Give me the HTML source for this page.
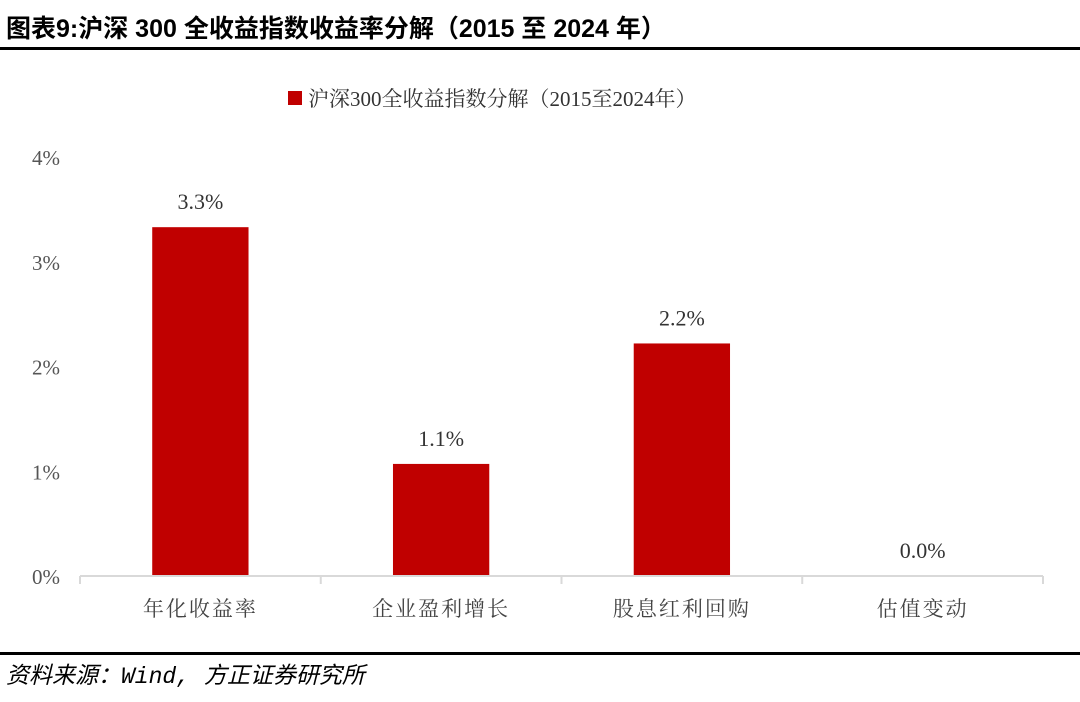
<!DOCTYPE html>
<html><head><meta charset="utf-8"><style>
body{margin:0;width:1080px;height:697px;background:#fff;overflow:hidden;font-family:"Liberation Serif","Noto Serif CJK SC",serif}
</style></head><body>
<svg width="1080" height="697" xmlns="http://www.w3.org/2000/svg">
<text x="6" y="37" font-size="25" font-weight="bold" fill="#000" font-family="'Liberation Sans','Noto Sans CJK SC',sans-serif">图表9:沪深 300 全收益指数收益率分解（2015 至 2024 年）</text>
<rect x="0" y="47" width="1080" height="3" fill="#000"/>
<rect x="288" y="91" width="14" height="14" fill="#c00000"/>
<text x="308" y="106" font-size="21" fill="#333">沪深300全收益指数分解（2015至2024年）</text>
<g id="yaxis"></g><g id="bars"></g><g id="xaxis"></g>
<rect x="0" y="652" width="1080" height="3" fill="#000"/>
<text x="6" y="683" font-size="23" font-style="italic" fill="#000" font-family="'Liberation Mono','Noto Sans CJK SC',monospace">资料来源：Wind, 方正证券研究所</text>
</svg>
<script>
const categories=["年化收益率","企业盈利增长","股息红利回购","估值变动"];
const values=[3.33,1.07,2.22,0.0];
const valueLabels=["3.3%","1.1%","2.2%","0.0%"];
const yTicks=[0,1,2,3,4];
const yTickLabels=["0%","1%","2%","3%","4%"];
const NS="http://www.w3.org/2000/svg";
const x0=80,x1=1043,y0=576,yTop=157,yMax=4;
const band=(x1-x0)/categories.length;
const y=v=>y0-(v/yMax)*(y0-yTop);
function mk(t,a,p,txt){const e=document.createElementNS(NS,t);for(const k in a)e.setAttribute(k,a[k]);if(txt!==undefined)e.textContent=txt;p.appendChild(e);return e;}
const ya=document.getElementById('yaxis'),ba=document.getElementById('bars'),xa=document.getElementById('xaxis');
yTicks.forEach((t,i)=>{const e=mk('text',{x:60,y:y(t)+8,'text-anchor':'end','font-size':21,fill:'#555'},ya,yTickLabels[i]);

});
categories.forEach((c,i)=>{const cx=x0+band*(i+0.5),w=band*0.4;
const r=mk('rect',{x:cx-w/2,y:y(values[i]),width:w,height:y0-y(values[i]),fill:'#c00000'},ba);


const l=mk('text',{x:cx,y:y(values[i])-18,'text-anchor':'middle','font-size':22,fill:'#333'},ba,valueLabels[i]);


const cl=mk('text',{x:cx,y:616,'text-anchor':'middle','font-size':21,fill:'#444','letter-spacing':'2'},xa,c);

});
const ax=mk('line',{x1:x0,y1:y0,x2:x1,y2:y0,stroke:'#d9d9d9','stroke-width':2},xa);


for(let i=0;i<=categories.length;i++){const tk=mk('line',{x1:x0+band*i,y1:y0,x2:x0+band*i,y2:y0+8,stroke:'#d9d9d9','stroke-width':2},xa);

}
</script>
</body></html>
